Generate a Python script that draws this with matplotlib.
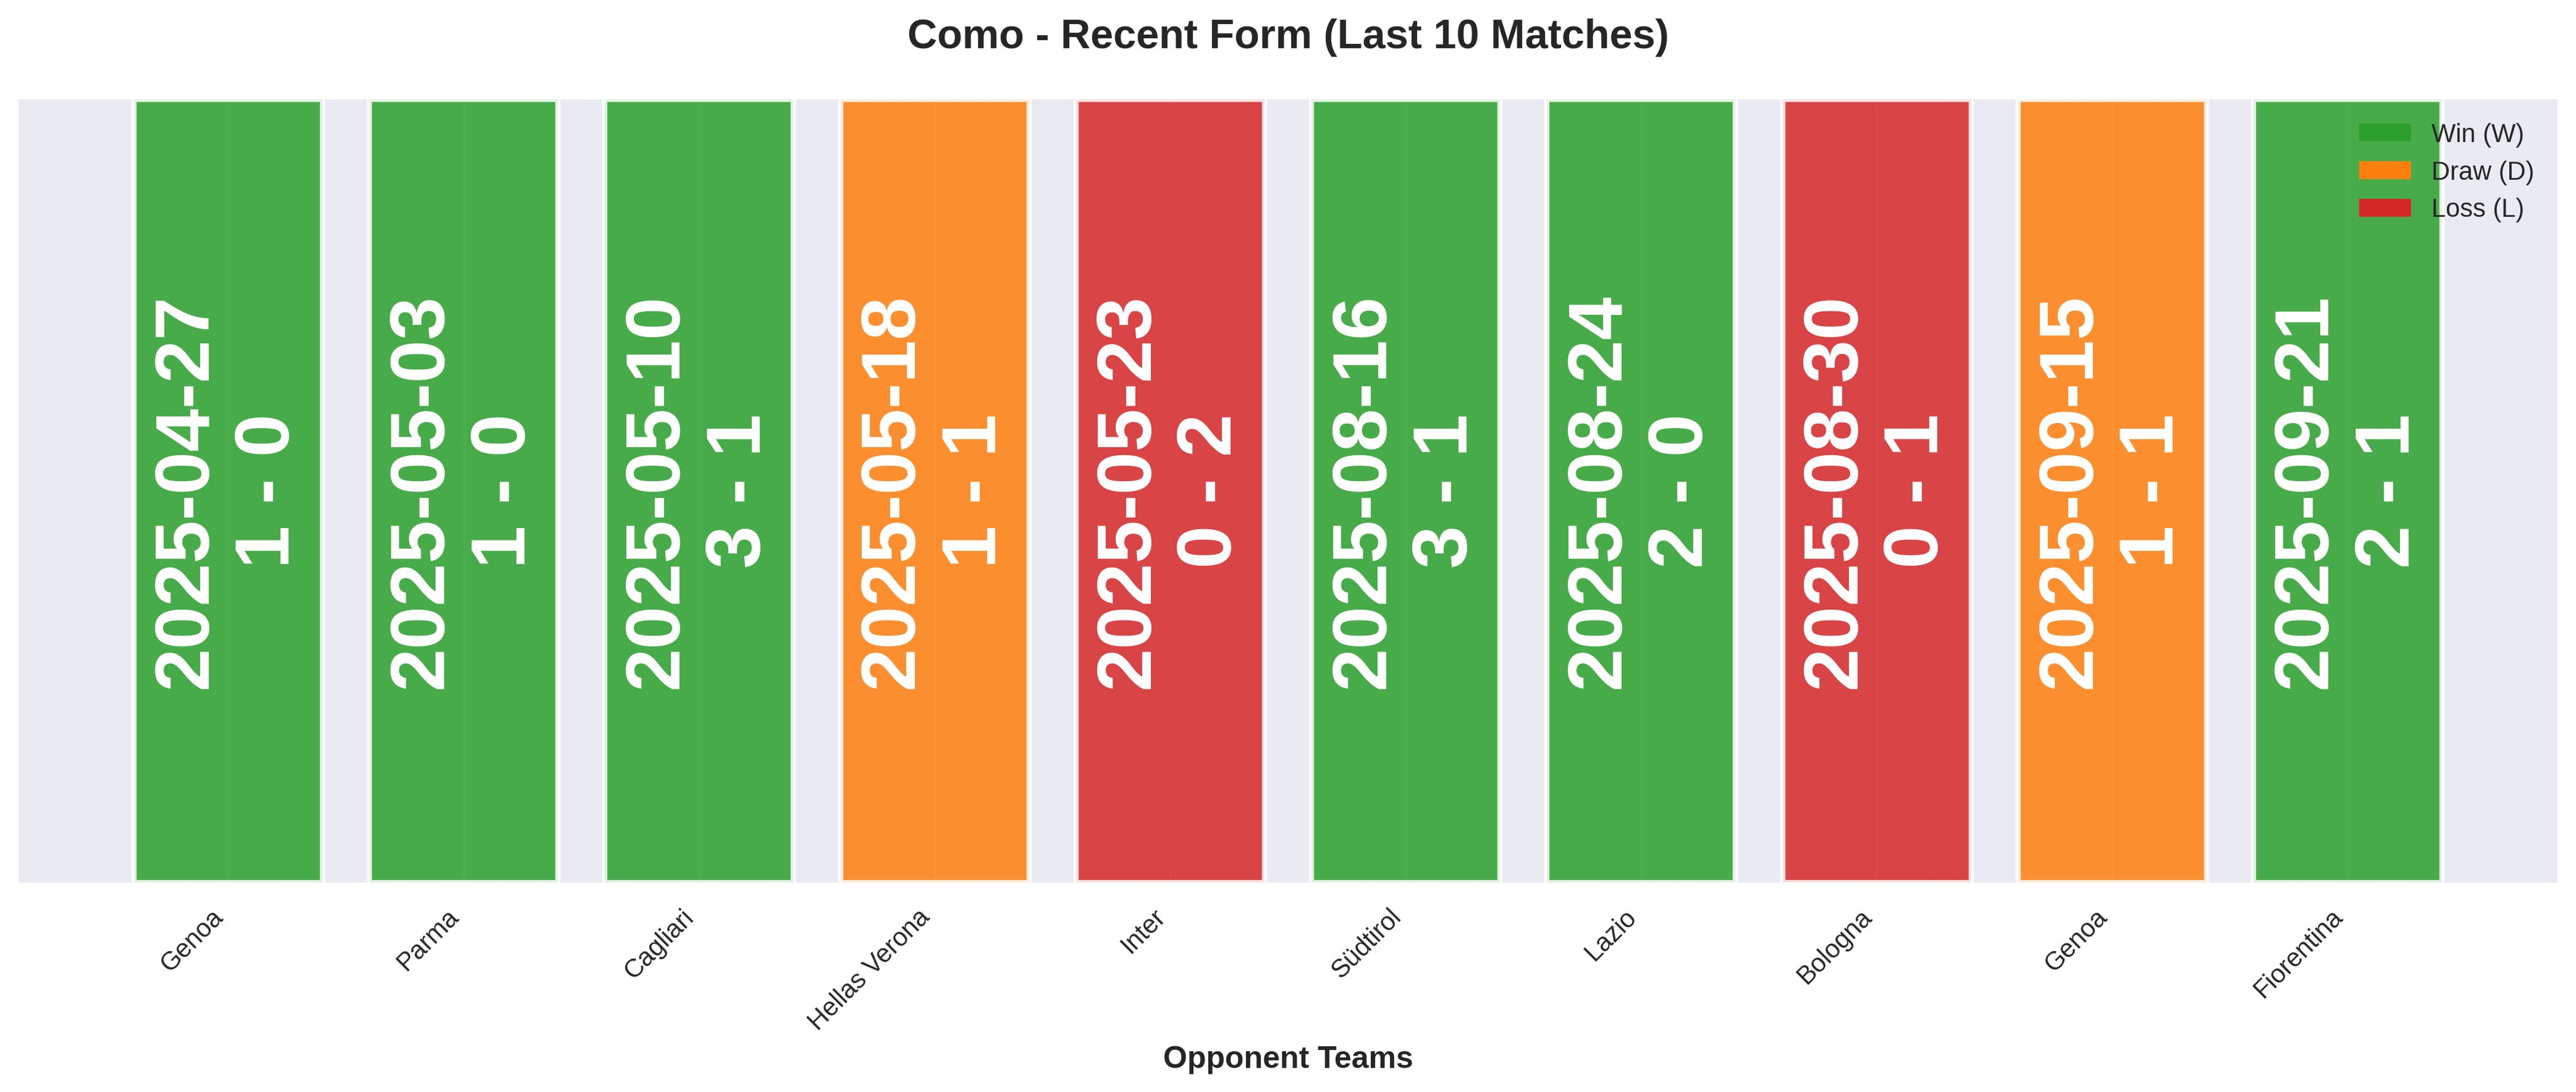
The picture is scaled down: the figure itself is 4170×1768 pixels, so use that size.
import matplotlib
matplotlib.use("Agg")
import matplotlib.pyplot as plt
from matplotlib.patches import Patch

plt.style.use("seaborn-v0_8-darkgrid")
plt.rcParams["font.family"] = ["Liberation Sans", "DejaVu Sans"]

opponents = ["Genoa", "Parma", "Cagliari", "Hellas Verona", "Inter",
             "Südtirol", "Lazio", "Bologna", "Genoa", "Fiorentina"]
dates = ["2025-04-27", "2025-05-03", "2025-05-10", "2025-05-18", "2025-05-23",
         "2025-08-16", "2025-08-24", "2025-08-30", "2025-09-15", "2025-09-21"]
scores = ["1 - 0", "1 - 0", "3 - 1", "1 - 1", "0 - 2",
          "3 - 1", "2 - 0", "0 - 1", "1 - 1", "2 - 1"]
results = ["W", "W", "W", "D", "L", "W", "W", "L", "D", "W"]
heights = [1] * len(results)

result_colors = {"W": "#2ca02c", "D": "#ff7f0e", "L": "#d62728"}
legend_labels = {"W": "Win (W)", "D": "Draw (D)", "L": "Loss (L)"}

fig, ax = plt.subplots(figsize=(14, 6))
x = list(range(len(opponents)))
bars = ax.bar(x, heights, color=[result_colors[r] for r in results],
              alpha=0.85, edgecolor="white", linewidth=2)

for xi, d, s in zip(x, dates, scores):
    ax.text(xi, 0.5, f"{d}\n{s}", ha="center", va="center", rotation=90,
            color="white", fontsize=30, fontweight="bold")

ax.set_ylim(0, 1)
ax.set_yticks([])
ax.set_xticks(x)
ax.set_xticklabels(opponents, rotation=45, ha="right", fontsize=10)
ax.tick_params(axis="x", length=0, pad=8.5)
ax.set_xlabel("Opponent Teams", fontsize=12, fontweight="bold")
ax.set_title("Como - Recent Form (Last 10 Matches)", fontsize=16,
             fontweight="bold", pad=20)

handles = [Patch(facecolor=result_colors[k], label=legend_labels[k]) for k in ["W", "D", "L"]]
ax.legend(handles=handles, loc="upper right", frameon=False, fontsize=10)

plt.tight_layout()
fig.savefig("out.png", dpi=300, bbox_inches="tight")
